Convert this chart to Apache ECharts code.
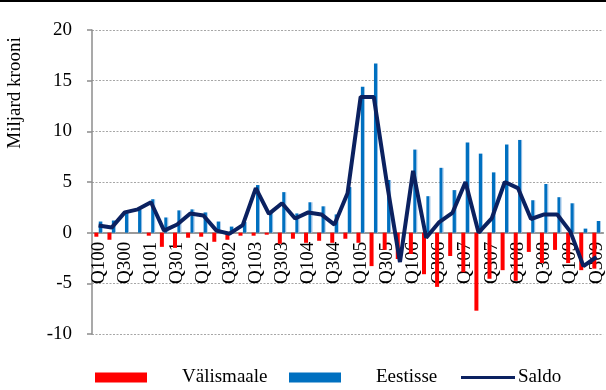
<!DOCTYPE html>
<html>
<head>
<meta charset="utf-8">
<script src="https://cdn.jsdelivr.net/npm/echarts@6/dist/echarts.min.js"></script>
<style>
  html, body { margin: 0; padding: 0; background: #ffffff; }
  #chart { width: 606px; height: 390px; }
</style>
</head>
<body>
<div id="chart"></div>
<script>
// Quarterly flows, billion kroons (Q1 2000 .. Q3 2009)
const quarters = [
  'Q100','Q200','Q300','Q400',
  'Q101','Q201','Q301','Q401',
  'Q102','Q202','Q302','Q402',
  'Q103','Q203','Q303','Q403',
  'Q104','Q204','Q304','Q404',
  'Q105','Q205','Q305','Q405',
  'Q106','Q206','Q306','Q406',
  'Q107','Q207','Q307','Q407',
  'Q108','Q208','Q308','Q408',
  'Q109','Q209','Q309'
];

const valismaale = [
  -0.4, -0.7, 0, 0,
  -0.3, -1.4, -1.5, -0.5,
  -0.4, -0.9, -0.7, -0.3,
  -0.3, -0.2, -1.1, -0.6,
  -1.0, -0.8, -1.0, -0.6,
  -1.0, -3.3, -1.7, -2.6,
  -2.1, -4.1, -5.35, -2.3,
  -3.9, -7.7, -4.55, -3.7,
  -4.75, -1.9, -3.0, -1.7,
  -3.0, -3.7, -3.55
];

const eestisse = [
  1.1, 1.2, 2.0, 2.3,
  3.3, 1.5, 2.2, 2.3,
  2.0, 1.1, 0.6, 1.05,
  4.7, 2.05, 4.0, 1.9,
  3.0, 2.6, 1.8, 4.5,
  14.4, 16.7, 5.2, 0,
  8.2, 3.6, 6.4, 4.2,
  8.9, 7.8, 5.95, 8.7,
  9.15, 3.2, 4.8, 3.5,
  2.9, 0.4, 1.15
];

const saldo = [
  0.7, 0.5, 2.0, 2.3,
  3.0, 0.2, 0.8, 1.9,
  1.7, 0.2, -0.1, 0.75,
  4.4, 1.85, 2.9, 1.4,
  2.0, 1.8, 0.8, 3.9,
  13.4, 13.4, 4.9, -2.9,
  6.1, -0.5, 1.05, 1.95,
  5.0, 0.0, 1.4, 5.0,
  4.4, 1.35, 1.8, 1.8,
  0.1, -3.3, -2.4
];

const yMin = -10;
const yMax = 20;
const yStep = 5;

const FONT = '"Liberation Serif", "Times New Roman", serif';
const RED = '#ff0000';
const BLUE = '#0070c0';
const NAVY = '#0b2160';

const GRID_TOP = 30;
const GRID_BOTTOM = 56;
const CHART_H = 390;
// the category axis sits on the value 0, which is this far above the grid bottom
const plotH = CHART_H - GRID_TOP - GRID_BOTTOM;
const zeroOffset = plotH * (0 - yMin) / (yMax - yMin);

const chart = echarts.init(document.getElementById('chart'), null, { renderer: 'canvas' });

const legendText = (pad) => ({
  fontFamily: FONT, fontSize: 19, color: '#000',
  rich: {
    t: { fontFamily: FONT, fontSize: 19, color: '#000', lineHeight: 20, padding: [0, 0, 0, pad] }
  }
});

chart.setOption({
  animation: false,
  backgroundColor: '#ffffff',
  grid: { left: 92, right: -1, top: GRID_TOP, bottom: GRID_BOTTOM, containLabel: false },
  graphic: [
    { type: 'rect', left: 0, top: 0, shape: { width: 606, height: 2 }, style: { fill: '#000' }, silent: true },
    {
      type: 'text', x: 15.5, y: 93, rotation: Math.PI / 2,
      style: {
        text: 'Miljard krooni', font: '19px ' + FONT, fill: '#000',
        align: 'center', verticalAlign: 'middle'
      }
    }
  ],
  legend: [
    {
      data: [{ name: 'Välismaale', itemStyle: { color: RED } }], left: 95, top: 368, padding: 0,
      icon: 'rect', itemWidth: 52, itemHeight: 10,
      formatter: '{t|{name}}', textStyle: legendText(30), selectedMode: false
    },
    {
      data: [{ name: 'Eestisse', itemStyle: { color: BLUE } }], left: 289, top: 368, padding: 0,
      icon: 'rect', itemWidth: 52, itemHeight: 10,
      formatter: '{t|{name}}', textStyle: legendText(30), selectedMode: false
    },
    {
      data: [{ name: 'Saldo', itemStyle: { color: NAVY } }], left: 461, top: 368, padding: 0,
      icon: 'rect', itemWidth: 54, itemHeight: 3,
      formatter: '{t|{name}}', textStyle: legendText(-2), selectedMode: false
    }
  ],
  xAxis: {
    type: 'category',
    data: quarters,
    boundaryGap: true,
    offset: -zeroOffset,
    z: 0,
    axisLine: { onZero: false, lineStyle: { color: '#9a9a9a', width: 2 } },
    axisTick: { show: false },
    axisLabel: {
      interval: 1, rotate: 90, margin: 9,
      fontFamily: FONT, fontSize: 19, color: '#000'
    },
    splitLine: { show: false }
  },
  yAxis: {
    type: 'value',
    min: yMin, max: yMax, interval: yStep,
    axisLine: { show: true, lineStyle: { color: '#8c8c8c', width: 1.5 } },
    axisTick: { show: true, inside: false, length: 5, lineStyle: { color: '#8c8c8c', width: 1.5 } },
    axisLabel: { margin: 20, fontFamily: FONT, fontSize: 19, color: '#000' },
    splitLine: { show: true, lineStyle: { color: '#a6a6a6', type: [2, 1.5], width: 1 } }
  },
  series: [
    {
      name: 'Välismaale', type: 'bar', data: valismaale,
      barWidth: 4, barGap: '10%', z: 3,
      itemStyle: { color: RED }
    },
    {
      name: 'Eestisse', type: 'bar', data: eestisse,
      barWidth: 4, z: 3,
      itemStyle: {
        color: new echarts.graphic.LinearGradient(0, 0, 1, 0, [
          { offset: 0, color: BLUE },
          { offset: 0.72, color: BLUE },
          { offset: 0.76, color: '#8fbbe3' },
          { offset: 1, color: '#8fbbe3' }
        ])
      }
    },
    {
      name: 'Saldo', type: 'line', data: saldo,
      symbol: 'none', showSymbol: false, z: 5,
      lineStyle: { color: NAVY, width: 4 },
      itemStyle: { color: NAVY }
    }
  ]
});
</script>
</body>
</html>
